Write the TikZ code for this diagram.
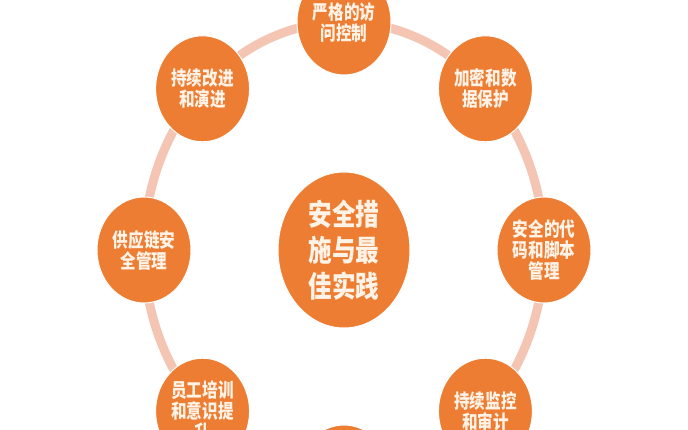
\documentclass[tikz,border=0pt]{standalone}
\usepackage{fontspec}
\newfontfamily\cjkfont[FakeStretch=0.8]{Noto Sans CJK SC}
\usetikzlibrary{shapes.geometric}
\definecolor{nodeorange}{RGB}{236,125,50}
\definecolor{ringpink}{RGB}{245,197,180}
\definecolor{textcream}{RGB}{255,242,230}

\begin{document}
\begin{tikzpicture}[x=1pt, y=-1pt,
    hub/.style={ellipse, fill=nodeorange, draw=white, line width=1pt,
        minimum width=132pt, minimum height=156pt, inner sep=0pt,
        align=center, text=textcream,
        font=\cjkfont\bfseries\fontsize{29.5}{36}\selectfont},
    item/.style={ellipse, fill=nodeorange, draw=white, line width=1pt,
        minimum width=94pt, minimum height=106pt, inner sep=0pt,
        align=center, text=textcream,
        font=\cjkfont\bfseries\fontsize{19.5}{21}\selectfont}]
        \clip (0,0) rectangle (688,430);

        % Ring behind the nodes
        \draw[ringpink, line width=9pt] (344,250) ellipse [x radius=200, y radius=228];

        % Centre node
        \node[hub] (core) at (344,250) {安全措\\施与最\\佳实践};

        % Outer nodes around the ring
        \foreach \a/\name/\txt in {90/access/{严格的访\\问控制},
                45/crypto/{加密和数\\据保护},
                0/code/{安全的代\\码和脚本\\管理},
                -45/monitor/{持续监控\\和审计},
                -90/bottom/{},
                -135/training/{员工培训\\和意识提\\升},
                180/supply/{供应链安\\全管理},
                135/improve/{持续改进\\和演进}} {
            \node[item] (\name) at ({344+200*cos(\a)},{250-228*sin(\a)}) {\txt};
        }
\end{tikzpicture}
\end{document}
